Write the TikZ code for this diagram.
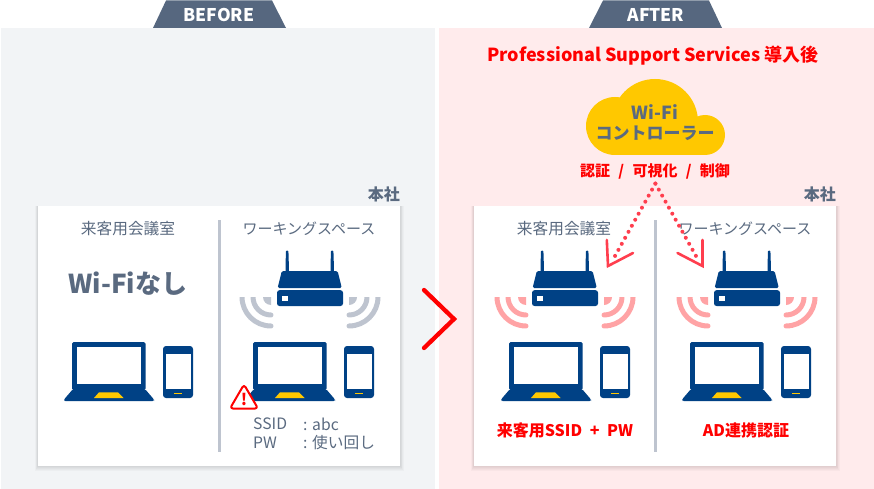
\documentclass[tikz,border=0pt]{standalone}
\usepackage{fontspec}
\setmainfont{Noto Sans CJK JP}
\usetikzlibrary{calc}
\definecolor{navy}{HTML}{004185}
\definecolor{slate}{HTML}{5A6A80}
\definecolor{tabc}{HTML}{56677F}
\definecolor{gold}{HTML}{FFC800}
\definecolor{grayc}{HTML}{BEC4CF}
\definecolor{pinkc}{HTML}{FFA3A5}
\definecolor{dotc}{HTML}{FF3E4E}
\definecolor{redc}{HTML}{FF0000}
\definecolor{panelB}{HTML}{F2F4F6}
\definecolor{panelA}{HTML}{FFEBEC}
\tikzset{
  lbl/.style={text=slate,font=\fontsize{15.7}{15.7}\selectfont,inner sep=0pt},
  lblk/.style={text=slate,font=\fontsize{15}{15}\selectfont,inner sep=0pt},
  hq/.style={text=slate,font=\fontsize{16}{16}\selectfont\bfseries,inner sep=0pt},
  redlbl/.style={text=redc,font=\fontsize{16}{16}\selectfont\bfseries,inner sep=0pt},
  tabtxt/.style={text=white,font=\fontsize{17.5}{17.5}\selectfont\bfseries,inner sep=0pt},
  divider/.style={grayc,line width=3pt},
  dotline/.style={dotc,line width=4pt,line cap=round,dash pattern=on 0pt off 6.9pt},
  barb/.style={dotc,line width=2.6pt,line cap=round,line join=miter},
}
% router with waves; #1 x-shift, #2 wave colour
\newcommand{\routerat}[2]{%
\begin{scope}[shift={(#1,0)}]
  \fill[navy,rounded corners=1pt] (285.6,272) -- (285.6,263) -- (286,250.5) -- (288.4,250.5) -- (288.8,263) -- (288.8,272) -- cycle;
  \fill[navy,rounded corners=1pt] (330.6,272) -- (330.6,263) -- (331,250.5) -- (333.4,250.5) -- (333.8,263) -- (333.8,272) -- cycle;
  \fill[navy,rounded corners=1.5pt] (277.6,288) -- (281.8,271) -- (337.6,271) -- (341.8,288) -- cycle;
  \fill[navy,rounded corners=2.5pt] (277,290.2) rectangle (343,306);
  \fill[white] (282,295.5) rectangle (287.5,301);
  \begin{scope}
    \clip (230,297) rectangle (390,340);
    \fill[#2] (271,297) -- (263,297) arc[start angle=180,end angle=270,radius=8pt] -- cycle;
    \draw[#2,line width=5pt,line cap=round] (253,297) arc[start angle=180,end angle=270,radius=18pt];
    \draw[#2,line width=5pt,line cap=round] (242,297) arc[start angle=180,end angle=270,radius=29pt];
    \fill[#2] (349,297) -- (357,297) arc[start angle=0,end angle=-90,radius=8pt] -- cycle;
    \draw[#2,line width=5pt,line cap=round] (367,297) arc[start angle=0,end angle=-90,radius=18pt];
    \draw[#2,line width=5pt,line cap=round] (378,297) arc[start angle=0,end angle=-90,radius=29pt];
  \end{scope}
\end{scope}}
% laptop and phone; #1 x-shift
\newcommand{\devicesat}[1]{%
\begin{scope}[shift={(#1,0)}]
  \fill[navy,rounded corners=1.5pt] (72,390) rectangle (145.5,342);
  \fill[white] (77,347) rectangle (140.5,384);
  \fill[navy,rounded corners=1.5pt] (64,401) -- (64,399.5) -- (73,389) -- (145,389) -- (154,399.5) -- (154,401) -- cycle;
  \fill[gold] (99,392.3) -- (118,392.3) -- (123.5,398) -- (94,398) -- cycle;
  \fill[navy,rounded corners=3pt] (163,346) rectangle (193,398);
  \fill[white] (165.5,353.5) rectangle (190.5,389);
  \fill[gold] (174,392.6) rectangle (182,394.2);
\end{scope}}
\newcommand{\cardat}[1]{%
\begin{scope}[shift={(#1,0)}]
  \foreach \g in {5,4,3,2,1}{\fill[black,opacity=0.022] (38-\g*0.6,206) rectangle (400+\g*0.8,465.5+\g);}
  \fill[white] (38,206) rectangle (400,465.5);
\end{scope}}
\begin{document}
\begin{tikzpicture}[x=1pt,y=-1pt]
\useasboundingbox (0,0) rectangle (874,489);
\fill[white] (0,0) rectangle (874,489);
% panels
\fill[panelB] (1,28) rectangle (435,489);
\fill[panelA] (439,28) rectangle (874,489);
% tabs
\fill[tabc] (166,0.5) -- (272,0.5) -- (286,28) -- (153,28) -- cycle;
\fill[tabc] (603,0.5) -- (709,0.5) -- (722,28) -- (589,28) -- cycle;
\node[tabtxt] (tabB) at (219,15) {BEFORE};
\node[tabtxt] (tabA) at (656,15) {AFTER};
% cards
\cardat{0}
\cardat{436}
\draw[divider] (219,220) -- (219,452);
\draw[divider] (655,220) -- (655,452);
% head office labels
\node[hq,anchor=east] (hqB) at (400,194) {本社};
\node[hq,anchor=east] (hqA) at (836,194) {本社};
% BEFORE texts
\node[lbl] (roomB1) at (128,229) {来客用会議室};
\node[lblk] (roomB2) at (309,229) {ワーキングスペース};
\node[text=slate,inner sep=0pt,font=\fontsize{26}{26}\selectfont\bfseries] (nowifi) at (128,284) {Wi-Fiなし};
\node[lbl,anchor=west] (ssidk) at (253,424) {SSID};
\node[lbl,anchor=west] (ssidv) at (303,424) {: abc};
\node[lbl,anchor=west] (pwk) at (253,443) {PW};
\node[lbl,anchor=west] (pwv) at (303,443) {: 使い回し};
% devices
\routerat{0}{grayc}
\devicesat{0}
\devicesat{181}
\routerat{255}{pinkc}
\routerat{437}{pinkc}
\devicesat{437}
\devicesat{618}
% warning
\draw[redc,fill=white,line width=2pt,rounded corners=3pt,line join=round] (244,384.5) -- (258,408.5) -- (230,408.5) -- cycle;
\node[text=redc,inner sep=0pt,font=\fontsize{16}{16}\selectfont\bfseries] (warn) at (244,399) {!};
% chevron
\draw[redc,line width=4.3pt,line cap=round,line join=miter] (424,290) -- (454,319) -- (424,348);
% AFTER texts
\node[text=redc,inner sep=0pt,font=\fontsize{18}{18}\selectfont\bfseries] (title) at (653,56) {Professional Support Services 導入後};
\begin{scope}
  \clip (580,70) rectangle (730,155);
  \fill[gold] (615,126) circle[radius=29pt] (655,122) circle[radius=43pt] (705,135) circle[radius=20pt];
  \fill[gold] (615,125) rectangle (705,155);
\end{scope}
\node[text=slate,inner sep=0pt,font=\fontsize{18}{18}\selectfont\bfseries] (wifi) at (655,112) {Wi-Fi};
\node[text=slate,inner sep=0pt,font=\fontsize{17}{17}\selectfont\bfseries] (ctrl) at (655,133) {コントローラー};
\node[text=redc,inner sep=0pt,font=\fontsize{15}{15}\selectfont\bfseries] (func) at (655,171) {認証\hspace{0.55em}/\hspace{0.55em}可視化\hspace{0.55em}/\hspace{0.55em}制御};
\node[lbl] (roomA1) at (564,229) {来客用会議室};
\node[lblk] (roomA2) at (745,229) {ワーキングスペース};
\node[redlbl] (authA) at (565,430) {来客用SSID\hspace{0.25em} + \hspace{0.25em}PW};
\node[redlbl] (authB) at (746,430) {AD連携認証};
% dotted connectors
\coordinate (apex) at (655.4,183.6);
\coordinate (endL) at (615,256);
\coordinate (endR) at (696,256);
\coordinate (tipL) at (608,266);
\coordinate (tipR) at (702.5,266);
\coordinate (barbL1) at (606.8,240);
\coordinate (barbL2) at (633,253);
\coordinate (barbR1) at (702.5,240);
\coordinate (barbR2) at (677.5,253);
\draw[dotline] (apex) -- (endL);
\draw[dotline] (apex) -- (endR);
\draw[barb] (barbL1) -- (tipL) -- (barbL2);
\draw[barb] (barbR1) -- (tipR) -- (barbR2);
\end{tikzpicture}
\end{document}
